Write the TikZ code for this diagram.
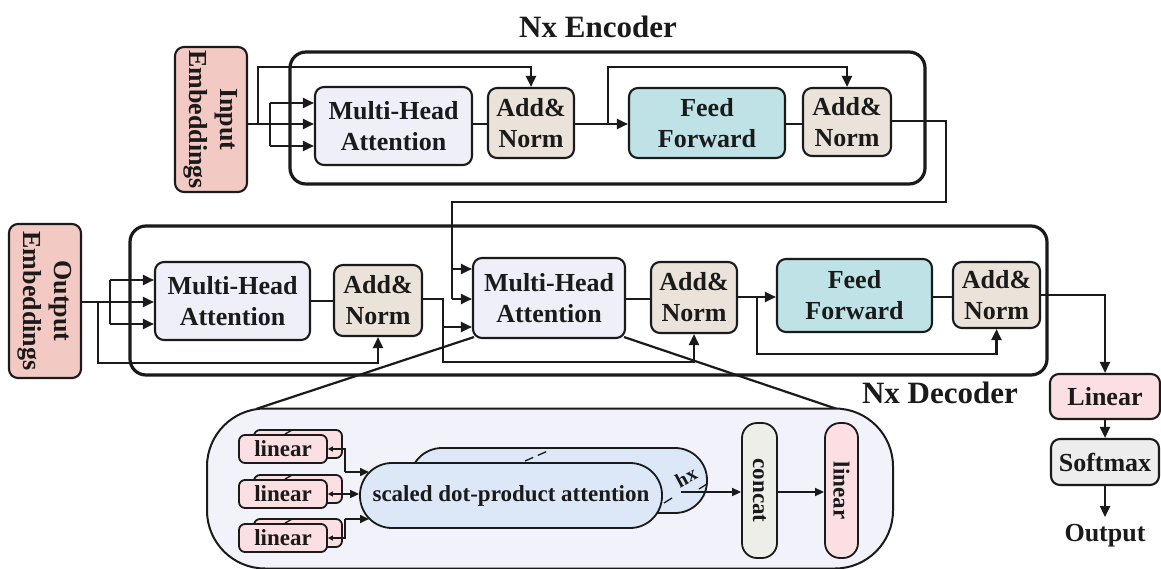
\documentclass[tikz,border=0pt]{standalone}
\usepackage{fontspec}
\setmainfont{Liberation Serif}
\usetikzlibrary{arrows.meta,calc}

\definecolor{embpink}{HTML}{F3C9C3}
\definecolor{mhalav}{HTML}{EFEFF9}
\definecolor{anbeige}{HTML}{EBE3DA}
\definecolor{ffteal}{HTML}{BEE2E6}
\definecolor{linpink}{HTML}{FBDFE2}
\definecolor{smgray}{HTML}{EDEDED}
\definecolor{zoomlav}{HTML}{F2F2FA}
\definecolor{sdblue}{HTML}{DCE7F8}
\definecolor{concatgray}{HTML}{EEEEE9}
\definecolor{ink}{HTML}{1A1A1A}

\tikzset{
  box/.style={draw=ink, line width=2.1pt, rounded corners=9pt, align=center,
    inner sep=0pt, text=ink, font=\bfseries\fontsize{26}{31}\selectfont},
  frame/.style={draw=ink, line width=3.2pt, rounded corners=16pt, inner sep=0pt},
  title/.style={text=ink, font=\bfseries\fontsize{31}{36}\selectfont},
  conn/.style={draw=ink, line width=2.2pt},
  arr/.style={conn, -{Triangle[length=11pt,width=10pt]}},
  small/.style={draw=ink, line width=1.8pt, rounded corners=6pt, inner sep=0pt,
    text=ink, font=\bfseries\fontsize{23}{27}\selectfont},
  linbox/.style={small, fill=linpink, minimum width=88, minimum height=28},
  sconn/.style={draw=ink, line width=1.6pt},
  sarr/.style={sconn, -{Triangle[length=9pt,width=8pt]}},
  tick/.style={draw=ink, line width=1.3pt},
}

\begin{document}
\begin{tikzpicture}[x=1pt,y=-1pt]
\useasboundingbox[fill=white] (0,0) rectangle (1161,569);

% ---------------- encoder ----------------
\node[frame, minimum width=635, minimum height=132] (encf) at (607.5,118) {};
\node[title] (enct) at (598,27) {Nx Encoder};
\node[box, fill=embpink, rotate=-90, minimum width=145, minimum height=72] (inemb) at (211,119.5) {Input\\Embeddings};
\node[box, fill=mhalav, minimum width=157, minimum height=78] (emha) at (393.5,126) {Multi-Head\\Attention};
\node[box, fill=anbeige, minimum width=86, minimum height=70] (ean1) at (531,123) {Add\&\\Norm};
\node[box, fill=ffteal, minimum width=156, minimum height=70] (eff) at (707,123) {Feed\\Forward};
\node[box, fill=anbeige, minimum width=88, minimum height=68] (ean2) at (847,122) {Add\&\\Norm};

\coordinate (es) at (258,124);
\coordinate (est) at (258,67);
\coordinate (ej) at (270,124);
\coordinate (eq) at (270,103);
\coordinate (ev) at (270,146);
\draw[conn] (inemb.north |- ej) -- (ej);
\draw[conn] (eq) -- (ev);
\draw[arr] (eq) -- (emha.west |- eq);
\draw[arr] (ej) -- (emha.west |- ej);
\draw[arr] (ev) -- (emha.west |- ev);
\draw[arr] (es) -- (est) -| (ean1.north);
\draw[conn] (emha.east |- ej) -- (ean1.west |- ej);
\coordinate (fj) at (608,124);
\coordinate (ft) at (608,67);
\draw[arr] (ean1.east |- ej) -- (eff.west |- ej);
\draw[arr] (fj) -- (ft) -| (ean2.north);
\draw[conn] (eff.east |- ej) -- (ean2.west |- ej);

% ---------------- decoder ----------------
\node[frame, minimum width=917, minimum height=149] (decf) at (588.5,300.5) {};
\node[title] (dect) at (940,393) {Nx Decoder};
\node[box, fill=embpink, rotate=-90, minimum width=154, minimum height=72] (outemb) at (45,301) {Output\\Embeddings};
\node[box, fill=mhalav, minimum width=155, minimum height=78] (dmha1) at (232.5,301) {Multi-Head\\Attention};
\node[box, fill=anbeige, minimum width=88, minimum height=71] (dan1) at (378,300.5) {Add\&\\Norm};
\node[box, fill=mhalav, minimum width=152, minimum height=80] (dmha2) at (549,298) {Multi-Head\\Attention};
\node[box, fill=anbeige, minimum width=86, minimum height=71] (dan2) at (694,297.5) {Add\&\\Norm};
\node[box, fill=ffteal, minimum width=155, minimum height=73] (dff) at (854.5,295.5) {Feed\\Forward};
\node[box, fill=anbeige, minimum width=87, minimum height=66] (dan3) at (996.5,295) {Add\&\\Norm};

% encoder output into the second attention block
\coordinate (o1) at (946,121);
\coordinate (o2) at (946,202);
\coordinate (o3) at (452,202);
\coordinate (o4) at (452,269);
\coordinate (o5) at (452,299);
\draw[conn] (ean2.east |- o1) -- (o1) -- (o2) -- (o3) -- (o5);
\draw[arr] (o4) -- (dmha2.west |- o4);
\draw[arr] (o5) -- (dmha2.west |- o5);

\coordinate (dj) at (110,302);
\coordinate (dq) at (110,280);
\coordinate (dv) at (110,324);
\coordinate (ds) at (98,302);
\coordinate (dsb) at (98,363);
\draw[conn] (outemb.north |- dj) -- (dj);
\draw[conn] (dq) -- (dv);
\draw[arr] (dq) -- (dmha1.west |- dq);
\draw[arr] (dj) -- (dmha1.west |- dj);
\draw[arr] (dv) -- (dmha1.west |- dv);
\draw[arr] (ds) -- (dsb) -| (dan1.south);
\draw[conn] (dmha1.east) -- (dmha1.east -| dan1.west);

\coordinate (m1) at (443,299);
\coordinate (m2) at (443,327);
\coordinate (m3) at (443,362);
\draw[arr] (dan1.east |- m1) -- (m1) -- (m3) -| (dan2.south);
\draw[arr] (m2) -- (dmha2.west |- m2);
\draw[conn] (dmha2.east |- m1) -- (dan2.west |- m1);

\coordinate (n1) at (757,297);
\coordinate (n2) at (757,354);
\draw[arr] (dan2.east |- n1) -- (dff.west |- n1);
\draw[arr] (n1) -- (n2) -| (dan3.south);
\draw[conn] (dff.east |- n1) -- (dan3.west |- n1);

% ---------------- output head ----------------
\node[box, fill=linpink, minimum width=110, minimum height=45] (lin) at (1105,396.5) {Linear};
\node[box, fill=smgray, minimum width=108, minimum height=46] (sm) at (1105,462) {Softmax};
\node[text=ink, font=\bfseries\fontsize{26}{31}\selectfont] (out) at (1105,536) {Output};
\coordinate (p1) at (1105,295);
\draw[arr] (dan3.east |- p1) -- (p1) -- (lin.north);
\draw[arr] (lin.south) -- (sm.north);
\draw[arr] (sm.south) -- ++(0,31);

% ---------------- attention detail ----------------
\coordinate (zl) at (256,409);
\coordinate (zr) at (837,409);
\draw[conn] (dmha2.south west) ++(2,-2) -- (zl);
\draw[conn] (dmha2.south east) ++(-2,-2) -- (zr);
\node[draw=ink, line width=2pt, fill=zoomlav, rounded corners=58pt,
  minimum width=686, minimum height=160, inner sep=0pt] (zoom) at (550,488.5) {};

% stacked linear projections
\foreach \r/\y in {1/449, 2/494, 3/538} {
  \node[linbox] (l\r b) at (298,\y-5) {};
  \node[linbox] (l\r) at (283,\y) {linear};
  \draw[tick] ($(l\r b.north)+(-13,5)$) -- ($(l\r b.north)+(-6,1)$);
}

% stacked attention heads
\node[small, fill=sdblue, rounded corners=32pt, minimum width=297, minimum height=65] (sdb) at (558.5,480.5) {};
\node[small, fill=sdblue, rounded corners=32pt, minimum width=302, minimum height=65] (sd) at (511,495.5) {scaled dot-product attention};
\draw[tick, dash pattern=on 9pt off 5pt] (525,461) -- (550,450);

\coordinate (a1) at (345,449);
\coordinate (a1d) at (345,472);
\coordinate (a1e) at (369,472);
\coordinate (a3) at (345,538);
\coordinate (a3u) at (345,519);
\coordinate (a3e) at (369,519);
\draw[sconn, {Triangle[length=5pt,width=5pt]}-] (l1.east) -- (a1) -- (a1d);
\draw[sarr] (a1d) -- (a1e);
\draw[sconn, {Triangle[length=5pt,width=5pt]}-] (l2.east) -- (l2.east -| a1);
\draw[sarr] (l2.east -| a1) -- (sd.west |- l2.east);
\draw[sconn, {Triangle[length=5pt,width=5pt]}-] (l3.east) -- (a3) -- (a3u);
\draw[sarr] (a3u) -- (a3e);

% heads label
\coordinate (hx) at (681,492);
\draw[tick] (664,503) -- (672,498);
\draw[tick] (699,489) -- (707,484);
\node[text=ink, rotate=28, inner sep=0pt, font=\bfseries\fontsize{20}{22}\selectfont] (hxl) at (686,477) {hx};

\node[small, fill=concatgray, rotate=-90, rounded corners=15pt, minimum width=135, minimum height=35] (cc) at (759.5,490.5) {concat};
\node[small, fill=linpink, rotate=-90, rounded corners=15pt, minimum width=135, minimum height=33] (l4) at (841.5,490.5) {linear};
\draw[sarr] (hx) -- (hx -| cc.south);
\draw[sarr] (cc.north |- hx) -- (l4.south |- hx);
\end{tikzpicture}
\end{document}
